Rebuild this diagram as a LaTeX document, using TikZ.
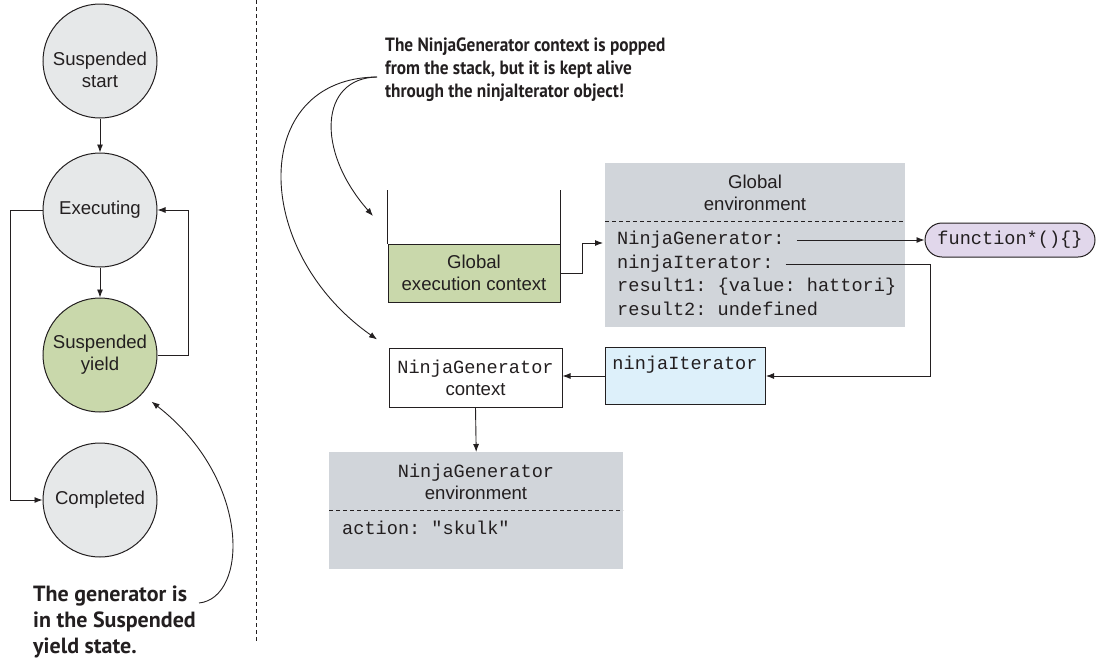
\documentclass[tikz,border=0pt]{standalone}
\usepackage{fontspec}
\setmainfont{Liberation Sans}
\setmonofont{Liberation Mono}
\newfontfamily\notefont{PT Sans}
\newfontfamily\notefontc[FakeStretch=0.9]{PT Sans}
\usetikzlibrary{arrows.meta}
\definecolor{linec}{RGB}{35,31,32}
\definecolor{cgray}{RGB}{230,232,233}
\definecolor{cgreen}{RGB}{201,216,171}
\definecolor{envgray}{RGB}{209,213,218}
\definecolor{cblue}{RGB}{221,240,250}
\definecolor{cpurple}{RGB}{225,215,235}
\newcommand{\basefont}{\fontsize{18.6}{22}\selectfont}
\tikzset{
  state/.style={circle, draw=linec, line width=1pt, fill=cgray, minimum size=114pt, inner sep=0pt, align=center},
  arr/.style={draw=linec, line width=0.9pt, -{Latex[length=8pt,width=6pt]}},
  plain/.style={draw=linec, line width=0.9pt},
  note/.style={align=left, anchor=north west, inner sep=0pt, text=linec},
  code/.style={font=\ttfamily\basefont, anchor=west, inner sep=0pt, text=linec},
  envbox/.style={fill=envgray, anchor=north west, inner sep=0pt},
  sep/.style={draw=linec, line width=0.8pt, dash pattern=on 4pt off 3pt},
  box/.style={draw=linec, line width=1pt, inner sep=0pt, align=center, text=linec}
}
\begin{document}
\begin{tikzpicture}[x=1pt,y=-1pt, font=\basefont, text=linec]
\useasboundingbox (0,0) rectangle (1097,667);

% left state machine
\node[state] (ss) at (100,61) {};
\node[align=center, inner sep=0pt] (sstext) at (100,70) {Suspended\\start};
\node[state] (ex) at (100,210) {Executing};
\node[state, fill=cgreen] (sy) at (100,355) {Suspended\\yield};
\node[state] (co) at (100,500) {Completed};
\draw[arr] (ss) -- (ex);
\draw[arr] (ex) -- (sy);
\draw[arr] (ex.west) -- ++(-32,0) |- (co.west);
\draw[arr] (sy.east) -- ++(31,0) |- (ex.east);

% divider
\draw[sep] (256,0) -- (256,642);

% bottom-left note
\node[note, font=\notefont\bfseries\fontsize{22}{26}\selectfont] (n1) at (33,586) {The generator is\\in the Suspended\\yield state.};
\coordinate (n1e) at (199,603);
\draw[arr, shorten >=12pt] (n1e) .. controls (248,598) and (252,480) .. (sy.-43);

% top note
\node[note, font=\notefontc\bfseries\fontsize{19.2}{23}\selectfont] (n2) at (385,38) {The NinjaGenerator context is popped\\from the stack, but it is kept alive\\through the ninjaIterator object!};
\coordinate (n2s) at (377,77);
\coordinate (stk) at (373,216);

% stack with global execution context
\node[box, fill=cgreen, minimum width=172pt, minimum height=58pt] (gec) at (474,273) {Global\\execution context};
\draw[plain] (gec.north west) -- ++(0,-54);
\draw[plain] (gec.north east) -- ++(0,-54);

% global environment
\node[envbox, minimum width=300pt, minimum height=164pt] (genv) at (605,163) {};
\node[align=center, inner sep=0pt] (gtitle) at (755,193) {Global\\environment};
\draw[sep] (605,221) -- (905,221);
\node[code] (gNG) at (617,240) {NinjaGenerator:};
\node[code] (gNI) at (617,264) {ninjaIterator:};
\node[code] (gR1) at (617,287) {result1: \{value: hattori\}};
\node[code] (gR2) at (617,309) {result2: undefined};

% function node
\node[box, fill=cpurple, rounded corners=17pt, minimum width=170pt, minimum height=34pt, font=\ttfamily\basefont] (fn) at (1010,240) {function*()\{\}};

% ninjaIterator box
\node[box, fill=cblue, minimum width=160pt, minimum height=57pt, anchor=north west] (nib) at (605,347) {};
\node[code, anchor=center] (nibt) at (685,365) {ninjaIterator};

% NinjaGenerator context
\node[box, fill=white, minimum width=173pt, minimum height=59pt] (ngc) at (475.5,377.5) {\ttfamily NinjaGenerator\\context};

% NinjaGenerator environment
\node[envbox, minimum width=294pt, minimum height=117pt] (nenv) at (329,452) {};
\node[align=center, inner sep=0pt] (ntitle) at (476,481.5) {\ttfamily NinjaGenerator\\environment};
\draw[sep] (329,510) -- (623,510);
\node[code] (nact) at (342,528) {action: "skulk"};

% connectors
\coordinate (r1) at (930,0);
\draw[arr] (gec.east) -- ++(22,0) |- ([xshift=-14pt,yshift=-3pt]gNG.west);
\draw[arr] ([xshift=12pt]gNG.east) -- (fn.west);
\draw[arr] ([xshift=12pt]gNI.east) -- (gNI.east -| r1) |- (nib.east);
\draw[arr] (nib.west) -- (ngc.east |- nib.west);
\draw[arr] (ngc.south) -- (nenv.north);
\draw[arr] (n2s) .. controls (320,78) and (315,150) .. (stk);
\draw[arr, shorten >=14pt] (n2s) .. controls (250,78) and (250,250) .. (ngc.north west);
\end{tikzpicture}
\end{document}
